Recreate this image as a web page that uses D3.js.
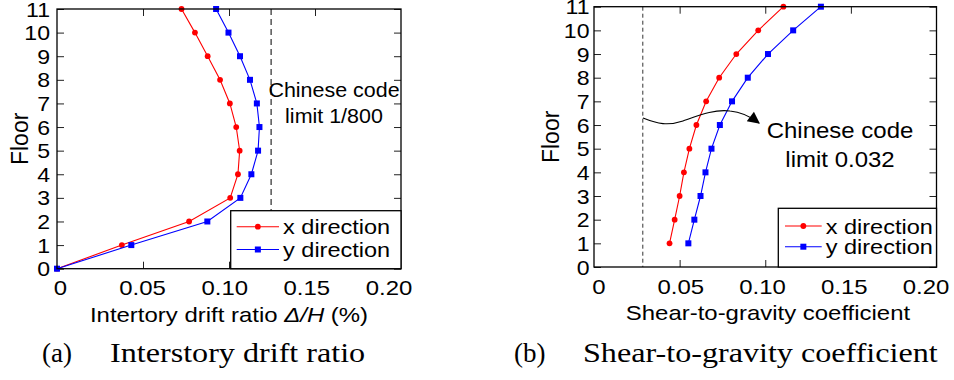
<!DOCTYPE html>
<html>
<head>
<meta charset="utf-8">
<script src="https://cdn.jsdelivr.net/npm/d3@7"></script>
<style>
    body { margin: 0; background: #fff; }
    svg { display: block; }
    text { font-family: "Liberation Sans", Arial, sans-serif; fill: #000; }
    .caption { font-family: "Liberation Serif", "Times New Roman", serif; }
</style>
</head>
<body>
<svg id="chart" width="954" height="380"></svg>
<script>
// values
const driftFloors = [0, 1, 2, 3, 4, 5, 6, 7, 8, 9, 10, 11];
const driftX = [0, 0.0377, 0.0768, 0.1007, 0.1052, 0.1062, 0.1042, 0.1005, 0.0948, 0.0876, 0.0802, 0.0724];
const driftY = [0, 0.0432, 0.0874, 0.1066, 0.1130, 0.1169, 0.1177, 0.1162, 0.1122, 0.1064, 0.0997, 0.0925];

const shearFloors = [1, 2, 3, 4, 5, 6, 7, 8, 9, 10, 11];
const shearX = [0.0441, 0.0471, 0.0500, 0.0525, 0.0557, 0.0598, 0.0655, 0.0731, 0.0831, 0.0959, 0.1106];
const shearY = [0.0551, 0.0586, 0.0622, 0.0651, 0.0686, 0.0735, 0.0806, 0.0898, 0.1016, 0.1163, 0.1325];

const floorTicks = [0, 1, 2, 3, 4, 5, 6, 7, 8, 9, 10, 11];
const xTicks = [0, 0.05, 0.10, 0.15, 0.20];
const xTickLabels = ['0', '0.05', '0.10', '0.15', '0.20'];
const seriesNames = ['x direction', 'y direction'];

const driftLimit = 0.1245;  // 1/800 in %
const shearLimit = 0.0285;  // where the dashed line sits in the figure

const svg = d3.select('#chart');

// the source figure is a bit wider than tall, so the text is squeezed out horizontally
function stretch(sel, k) {
    sel.each(function() {
        const w = this.getComputedTextLength();
        d3.select(this).attr('textLength', w * k).attr('lengthAdjust', 'spacingAndGlyphs');
    });
}

function drawPanel(cfg) {
    const g = svg.append('g');
    const x = d3.scaleLinear().domain([0, 0.2]).range(cfg.xRange);
    const y = d3.scaleLinear().domain([0, 11]).range(cfg.yRange);
    // tick labels sit a little tighter than the ticks themselves
    const xLab = d3.scaleLinear().domain([0, 0.2]).range(cfg.xLabelRange);

    const [left, right] = cfg.xRange;
    const [bottom, top] = cfg.yRange;

    // inward ticks on all four sides
    const inner = [0.05, 0.10, 0.15];
    const tickLen = 7;
    g.append('g').attr('transform', `translate(0,${bottom})`)
        .call(d3.axisBottom(x).tickValues(inner).tickSize(-tickLen).tickFormat(''));
    g.append('g').attr('transform', `translate(0,${top})`)
        .call(d3.axisTop(x).tickValues(inner).tickSize(-tickLen).tickFormat(''));
    g.append('g').attr('transform', `translate(${left},0)`)
        .call(d3.axisLeft(y).tickValues(floorTicks).tickSize(-tickLen).tickFormat(''));
    g.append('g').attr('transform', `translate(${right},0)`)
        .call(d3.axisRight(y).tickValues(floorTicks).tickSize(-tickLen).tickFormat(''));
    g.selectAll('.domain').remove();
    g.selectAll('.tick line').attr('stroke', '#222').attr('stroke-width', 1);

    // code limit
    g.append('line')
        .attr('x1', x(cfg.limit)).attr('x2', x(cfg.limit))
        .attr('y1', top).attr('y2', bottom)
        .attr('stroke', cfg.limitColor)
        .attr('stroke-width', cfg.limitWidth)
        .attr('stroke-dasharray', cfg.limitDash);

    // series
    const series = [
        { name: seriesNames[0], color: '#ff0000', shape: 'circle', values: cfg.xValues },
        { name: seriesNames[1], color: '#0000ff', shape: 'square', values: cfg.yValues }
    ];
    const line = d3.line().x(d => x(d[0])).y(d => y(d[1]));

    series.forEach(s => {
        const pts = s.values.map((v, i) => [v, cfg.floors[i]]);
        g.append('path').datum(pts)
            .attr('fill', 'none')
            .attr('stroke', s.color)
            .attr('stroke-width', 1.1)
            .attr('d', line);
        drawMarkers(g, pts.map(p => [x(p[0]), y(p[1])]), s);
    });

    // frame
    g.append('rect')
        .attr('x', left).attr('y', top)
        .attr('width', right - left).attr('height', bottom - top)
        .attr('fill', 'none').attr('stroke', '#000').attr('stroke-width', 1.3);

    // tick labels
    const xt = g.append('g').selectAll('text').data(xTicks).join('text')
        .attr('x', d => xLab(d))
        .attr('y', bottom + 26.5)
        .attr('text-anchor', 'middle')
        .attr('font-size', 21)
        .text((d, i) => xTickLabels[i]);
    stretch(xt, 1.14);

    const yt = g.append('g').selectAll('text').data(floorTicks).join('text')
        .attr('x', cfg.yLabelX)
        .attr('y', d => y(d))
        .attr('dy', '0.36em')
        .attr('text-anchor', 'end')
        .attr('font-size', 21)
        .text(d => d);
    stretch(yt, 1.1);

    // axis titles
    g.append('text')
        .attr('transform', `translate(${cfg.floorX},${(top + bottom) / 2}) rotate(-90)`)
        .attr('dy', '0.36em')
        .attr('text-anchor', 'middle')
        .attr('font-size', 23)
        .text('Floor');

    const title = g.append('text')
        .attr('x', cfg.titleX)
        .attr('y', bottom + 53)
        .attr('text-anchor', 'middle')
        .attr('font-size', 21);
    cfg.title(title);
    stretch(title, 1.14);

    // legend
    const lg = g.append('g');
    lg.append('rect')
        .attr('x', cfg.legendX).attr('y', cfg.legendY)
        .attr('width', right - cfg.legendX).attr('height', bottom - cfg.legendY)
        .attr('fill', '#fff').attr('stroke', '#000').attr('stroke-width', 1.3);
    series.forEach((s, i) => {
        const ly = cfg.legendRows[i];
        lg.append('line')
            .attr('x1', cfg.legendLine[0]).attr('x2', cfg.legendLine[1])
            .attr('y1', ly).attr('y2', ly)
            .attr('stroke', s.color).attr('stroke-width', 1.1);
        drawMarkers(lg, [[(cfg.legendLine[0] + cfg.legendLine[1]) / 2, ly]], s);
        const t = lg.append('text')
            .attr('x', cfg.legendLine[1] + 4)
            .attr('y', ly)
            .attr('dy', '0.36em')
            .attr('font-size', 21)
            .text(s.name);
        stretch(t, 1.12);
    });

    // caption
    g.append('text').attr('class', 'caption')
        .attr('x', cfg.capX[0]).attr('y', 362)
        .attr('font-size', 27)
        .text(cfg.capTag);
    const cap = g.append('text').attr('class', 'caption')
        .attr('x', cfg.capX[1]).attr('y', 362)
        .attr('font-size', 27)
        .text(cfg.capText);
    stretch(cap, 1.19);

    return { g, x, y };
}

function drawMarkers(g, pts, s) {
    if (s.shape === 'circle') {
        g.selectAll(null).data(pts).join('circle')
            .attr('cx', d => d[0]).attr('cy', d => d[1])
            .attr('r', 2.9)
            .attr('fill', s.color);
    } else {
        const a = 6;
        g.selectAll(null).data(pts).join('rect')
            .attr('x', d => d[0] - a / 2).attr('y', d => d[1] - a / 2)
            .attr('width', a).attr('height', a)
            .attr('fill', s.color);
    }
}

// (a) interstory drift
const pa = drawPanel({
    xRange: [57, 401], yRange: [268.7, 9],
    xLabelRange: [60.5, 389],
    yLabelX: 50,
    floorX: 20,
    titleX: 229,
    title: t => {
        t.append('tspan').text('Intertory drift ratio ');
        t.append('tspan').attr('font-style', 'italic').text('\u0394/H');
        t.append('tspan').text(' (%)');
    },
    floors: driftFloors, xValues: driftX, yValues: driftY,
    limit: driftLimit, limitColor: '#555', limitWidth: 1.5, limitDash: '6,4',
    legendX: 230.7, legendY: 210.7,
    legendRows: [226.7, 249.5], legendLine: [236.7, 279],
    capTag: '(a)', capText: 'Interstory drift ratio', capX: [42, 110]
});

pa.g.selectAll(null).data(['Chinese code', 'limit 1/800']).join('text')
    .attr('x', 334)
    .attr('y', (d, i) => 97 + i * 26)
    .attr('text-anchor', 'middle')
    .attr('font-size', 19.5)
    .text(d => d)
    .call(stretch, 1.1);

// (b) shear-to-gravity
const pb = drawPanel({
    xRange: [594, 936.5], yRange: [267, 6.7],
    xLabelRange: [599, 926],
    yLabelX: 589.5,
    floorX: 551,
    titleX: 768,
    title: t => t.text('Shear-to-gravity coefficient'),
    floors: shearFloors, xValues: shearX, yValues: shearY,
    limit: shearLimit, limitColor: '#333', limitWidth: 1, limitDash: '4,3',
    legendX: 778.3, legendY: 208.3,
    legendRows: [226, 246.7], legendLine: [785, 821.7],
    capTag: '(b)', capText: 'Shear-to-gravity coefficient', capX: [514, 583]
});

svg.append('defs').append('marker')
    .attr('id', 'arrow')
    .attr('viewBox', '0 0 10 10')
    .attr('refX', 9).attr('refY', 5)
    .attr('markerUnits', 'userSpaceOnUse')
    .attr('markerWidth', 14).attr('markerHeight', 12)
    .attr('orient', 'auto')
    .append('path').attr('d', 'M0,0 L10,5 L0,10 Z').attr('fill', '#000');

pb.g.append('path')
    .attr('d', 'M643,118 C658,124 668,126 683,121 C700,115 715,109 730,111 C742,112 751,117 759,123')
    .attr('fill', 'none')
    .attr('stroke', '#000')
    .attr('stroke-width', 1.1)
    .attr('marker-end', 'url(#arrow)');

pb.g.selectAll(null).data(['Chinese code', 'limit 0.032']).join('text')
    .attr('x', 840)
    .attr('y', (d, i) => 138 + i * 28.5)
    .attr('text-anchor', 'middle')
    .attr('font-size', 22)
    .text(d => d)
    .call(stretch, 1.09);
</script>
</body>
</html>
